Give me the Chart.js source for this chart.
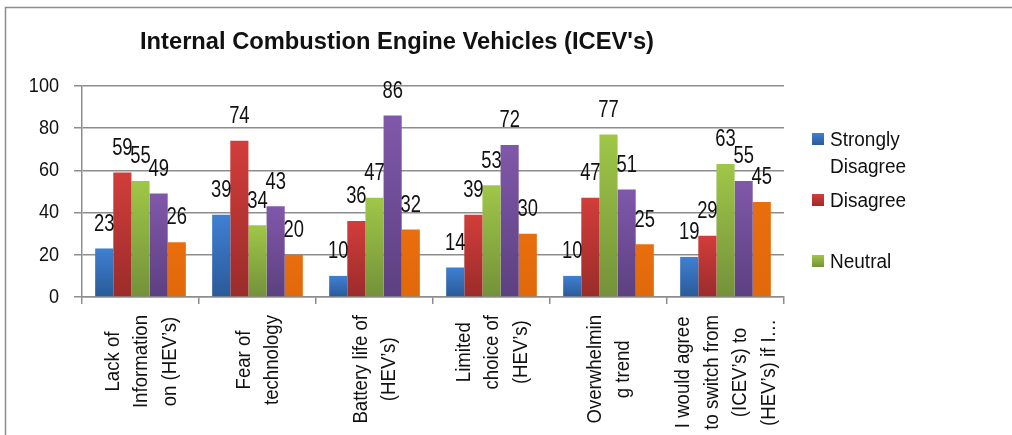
<!DOCTYPE html>
<html>
<head>
<meta charset="utf-8">
<script src="https://cdn.jsdelivr.net/npm/chart.js@4.4.0/dist/chart.umd.min.js"></script>
<style>
html, body { margin: 0; padding: 0; background: #fff; }
#wrap { width: 1012px; height: 435px; position: relative; }
</style>
</head>
<body>
<div id="wrap"><canvas id="myChart"></canvas></div>
<script>
const title = "Internal Combustion Engine Vehicles (ICEV's)"
const categories = [
    ['Lack of', 'Information', 'on (HEV’s)'],
    ['Fear of', 'technology'],
    ['Battery life of', '(HEV’s)'],
    ['Limited', 'choice of', '(HEV’s)'],
    ['Overwhelmin', 'g trend'],
    ['I would agree', 'to switch from', '(ICEV’s) to', '(HEV’s) if I…']
]
const seriesNames = ['Strongly Disagree', 'Disagree', 'Neutral', 'Agree', 'Strongly Agree']
const stronglyDisagree = [23, 39, 10, 14, 10, 19]
const disagree = [59, 74, 36, 39, 47, 29]
const neutral = [55, 34, 47, 53, 77, 63]
const agree = [49, 43, 86, 72, 51, 55]
const stronglyAgree = [26, 20, 32, 30, 25, 45]
const yTicks = [0, 20, 40, 60, 80, 100]
// excel only shows the first three legend entries
const legendShown = 3

// no narrow font installed, so text is squeezed by hand
const FONT = "'Liberation Sans', Arial, sans-serif"
const GRID = '#8d8d8d'
const INK = '#111'

// top / bottom colours of the bar gradients
const fills = [
    ['#3f80d2', '#2a5a98'],
    ['#d23d3b', '#9a2c2a'],
    ['#9fc747', '#74913a'],
    ['#8058aa', '#5c4080'],
    ['#e96e0d', '#e0690a']
]

function barFill(top, bottom) {
    return (ctx) => {
        const chart = ctx.chart
        if (!chart.chartArea || ctx.type !== 'data') return top
        const y = chart.scales.y
        const g = chart.ctx.createLinearGradient(0, y.getPixelForValue(ctx.raw), 0, y.getPixelForValue(0))
        g.addColorStop(0, top)
        g.addColorStop(1, bottom)
        return g
    }
}

function squeezed(c, text, x, y, sx, angle) {
    c.save()
    c.translate(x, y)
    if (angle) c.rotate(angle)
    c.scale(sx, 1)
    c.fillText(text, 0, 0)
    c.restore()
}

const values = [stronglyDisagree, disagree, neutral, agree, stronglyAgree]

const decor = {
    id: 'decor',
    beforeDraw(chart) {
        const c = chart.ctx
        c.save()
        c.fillStyle = '#fff'
        c.fillRect(0, 0, chart.width, chart.height)
        c.strokeStyle = GRID
        c.lineWidth = 1.5
        c.beginPath()
        c.moveTo(5.5, chart.height)
        c.lineTo(5.5, 7.5)
        c.lineTo(chart.width, 7.5)
        c.stroke()
        c.restore()
    },
    afterDatasetsDraw(chart) {
        const c = chart.ctx
        c.save()
        c.font = `23px ${FONT}`
        c.fillStyle = INK
        c.textAlign = 'center'
        c.textBaseline = 'middle'
        chart.data.datasets.forEach((ds, i) => {
            chart.getDatasetMeta(i).data.forEach((bar, j) => {
                squeezed(c, String(ds.data[j]), bar.x, bar.y - 24, 0.8)
            })
        })
        c.restore()
    },
    afterDraw(chart) {
        const c = chart.ctx
        const x = chart.scales.x
        const y = chart.scales.y
        c.save()
        c.fillStyle = INK
        c.textBaseline = 'middle'

        // title
        c.font = `bold 23px ${FONT}`
        c.textAlign = 'center'
        squeezed(c, title, 397, 43, 514 / c.measureText(title).width)

        // y ticks
        c.font = `21px ${FONT}`
        c.textAlign = 'right'
        yTicks.forEach(v => squeezed(c, String(v), 59, y.getPixelForValue(v), 0.86))

        // rotated, wrapped category labels
        c.font = `20px ${FONT}`
        c.textAlign = 'center'
        const sx = 0.93
        categories.forEach((lines, i) => {
            const cx = x.getPixelForValue(i) + 1
            const longest = Math.max(...lines.map(l => c.measureText(l).width)) * sx
            const cy = 315 + longest / 2
            lines.forEach((line, k) => {
                squeezed(c, line, cx + (k - (lines.length - 1) / 2) * 28.5, cy, sx, -Math.PI / 2)
            })
        })

        // legend
        c.font = `20px ${FONT}`
        c.textAlign = 'left'
        chart.data.datasets.slice(0, legendShown).forEach((ds, i) => {
            const sy = 133 + i * 61
            const g = c.createLinearGradient(0, sy, 0, sy + 12)
            g.addColorStop(0, fills[i][0])
            g.addColorStop(1, fills[i][1])
            c.fillStyle = g
            c.fillRect(812, sy, 12, 12)
            c.fillStyle = INK
            const rows = c.measureText(ds.label).width > 90 ? ds.label.split(' ') : [ds.label]
            rows.forEach((r, k) => squeezed(c, r, 830, sy + 7 + k * 27, 0.95))
        })
        c.restore()
    }
}

const canvas = document.getElementById('myChart')
const myChart = new Chart(canvas, {
    type: 'bar',
    data: {
        labels: categories,
        datasets: values.map((data, i) => ({
            label: seriesNames[i],
            data,
            backgroundColor: barFill(fills[i][0], fills[i][1]),
            borderWidth: 0,
            categoryPercentage: 0.775,
            barPercentage: 1
        }))
    },
    options: {
        responsive: true,
        maintainAspectRatio: false,
        animation: false,
        devicePixelRatio: 1,
        layout: {
            padding: { left: 0, right: 228, top: 86, bottom: 0 }
        },
        plugins: {
            legend: { display: false },
            tooltip: { enabled: false },
            title: { display: false }
        },
        scales: {
            x: {
                ticks: { display: false },
                grid: { drawOnChartArea: false, offset: true, color: GRID, lineWidth: 1.5, tickLength: 7 },
                border: { color: GRID, width: 1.5 },
                afterFit(scale) { scale.height = 138 }
            },
            y: {
                min: 0,
                max: 100,
                afterBuildTicks(scale) { scale.ticks = yTicks.map(v => ({ value: v })) },
                ticks: { display: false },
                grid: { color: GRID, lineWidth: 1.5, tickLength: 8 },
                border: { color: GRID, width: 1.5 },
                afterFit(scale) { scale.width = 82 }
            }
        }
    },
    plugins: [decor]
})
</script>
</body>
</html>
